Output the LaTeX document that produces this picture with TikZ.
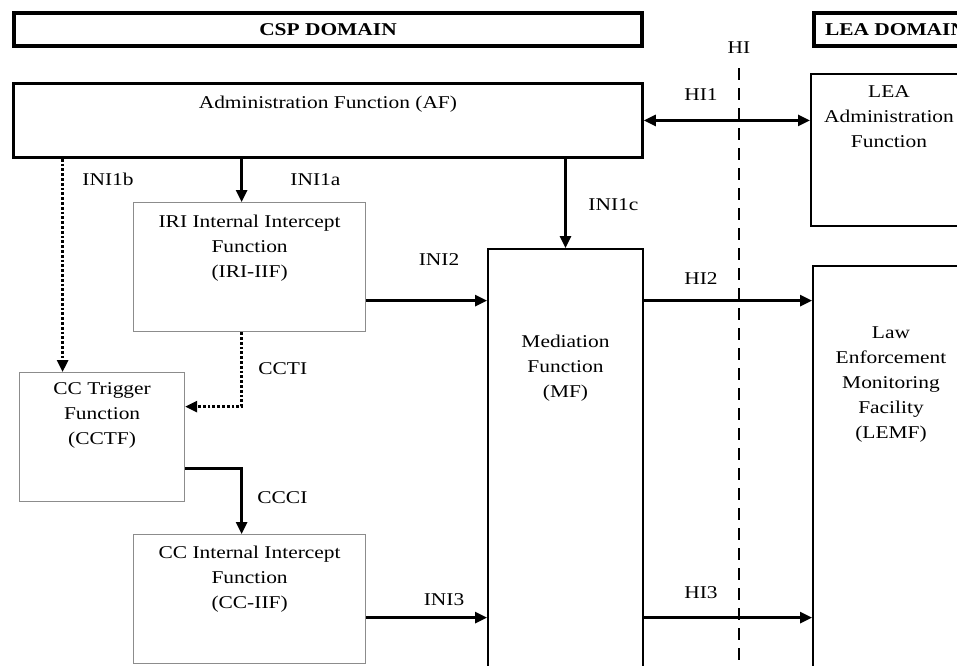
\documentclass[tikz,border=0pt]{standalone}
\usepackage{fontspec}
\setmainfont{Liberation Serif}[FakeStretch=1.19]
\usetikzlibrary{arrows.meta}

\begin{document}
\begin{tikzpicture}[x=0.5pt, y=-0.5pt,
    font=\fontsize{9}{12.5}\selectfont,
    >={Triangle[length=6pt,width=5.5pt]},
    dombox/.style={draw, line width=2pt, inner sep=0pt, anchor=north west, font=\fontsize{9}{12.5}\selectfont\bfseries},
    blkbox/.style={draw, line width=1pt, inner sep=0pt, anchor=north west},
    grybox/.style={draw=black!45, line width=0.6pt, inner sep=0pt, anchor=north west},
    txt/.style={inner sep=0pt, align=center, anchor=north},
    lbl/.style={inner sep=0pt, anchor=base},
    arr/.style={->, line width=1.3pt},
    dotarr/.style={->, line width=1.4pt, densely dotted},
    hiline/.style={line width=1.4pt, dash pattern=on 6pt off 4pt}]
    \useasboundingbox (0,0) rectangle (957,665);
    \clip (0,0) rectangle (957,665);

    % domains
    \node[dombox, minimum width=314pt, minimum height=16.5pt] (csp) at (12,11) {CSP DOMAIN};
    \node[dombox, minimum width=81.5pt, minimum height=16.5pt] (lea) at (812,11) {LEA DOMAIN};

    % boxes
    \node[blkbox, line width=1.4pt, minimum width=314.5pt, minimum height=37pt] (af) at (12,82) {};
    \node[lbl] (aftxt) at ([yshift=-13pt]af.north) {Administration Function (AF)};
    \node[blkbox, minimum width=78pt, minimum height=76pt] (leaaf) at (810,73) {};
    \node[txt] (leaaftxt) at ([yshift=-6.25pt]leaaf.north) {LEA\\Administration\\Function};
    \node[grybox, minimum width=116pt, minimum height=64.5pt] (iri) at (133,202) {};
    \node[txt] (iritxt) at ([yshift=-6.25pt]iri.north) {IRI Internal Intercept\\Function\\(IRI-IIF)};
    \node[grybox, minimum width=82.5pt, minimum height=64.5pt] (cctf) at (19,372) {};
    \node[txt] (cctftxt) at ([yshift=-5.25pt]cctf.north) {CC Trigger\\Function\\(CCTF)};
    \node[grybox, minimum width=116pt, minimum height=64.5pt] (cciif) at (133,534) {};
    \node[txt] (cciiftxt) at ([yshift=-5.75pt]cciif.north) {CC Internal Intercept\\Function\\(CC-IIF)};
    \node[blkbox, minimum width=77.5pt, minimum height=230pt] (mf) at (487,248) {};
    \node[txt] (mftxt) at ([yshift=-43.25pt]mf.north) {Mediation\\Function\\(MF)};
    \node[blkbox, minimum width=78pt, minimum height=220pt] (lemf) at (812,265) {};
    \node[txt] (lemftxt) at ([yshift=-30.75pt]lemf.north) {Law\\Enforcement\\Monitoring\\Facility\\(LEMF)};

    % handover line
    \node[lbl] (hi) at (739,53) {HI};
    \coordinate (hiend) at (739,670);
    \draw[hiline] ([yshift=-7.5pt]hi.base) -- (hiend);

    % connectors
    \coordinate (ini2) at ([yshift=-16.75pt]iri.east);
    \coordinate (ini3) at ([yshift=-9.25pt]cciif.east);
    \draw[<->, line width=1.3pt] (af.east) -- (af.east -| leaaf.west);
    \draw[arr] ([xshift=-4pt]af.south -| iri.north) -- ([xshift=-4pt]iri.north);
    \draw[arr] (af.south -| mf.north) -- (mf.north);
    \draw[dotarr] ([xshift=-19.75pt]cctf.north |- af.south) -- ([xshift=-19.75pt]cctf.north);
    \draw[dotarr] ([xshift=-4pt]iri.south) |- ([yshift=15.25pt]cctf.east);
    \draw[arr] ([yshift=-15.75pt]cctf.east) -| ([xshift=-4pt]cciif.north);
    \draw[arr] (ini2) -- (ini2 -| mf.west);
    \draw[arr] (ini2 -| mf.east) -- (ini2 -| lemf.west);
    \draw[arr] (ini3) -- (ini3 -| mf.west);
    \draw[arr] (ini3 -| mf.east) -- (ini3 -| lemf.west);

    % interface labels
    \node[lbl] (hione) at (701,100) {HI1};
    \node[lbl] (hitwo) at (701,284) {HI2};
    \node[lbl] (hithree) at (701,598) {HI3};
    \node[lbl, anchor=base west] (inib) at (82,185) {INI1b};
    \node[lbl, anchor=base west] (inia) at (290,185) {INI1a};
    \node[lbl, anchor=base west] (inic) at (588,210) {INI1c};
    \node[lbl] (initwo) at (439,265) {INI2};
    \node[lbl] (inithree) at (444,605) {INI3};
    \node[lbl, anchor=base west] (ccti) at (258,374) {CCTI};
    \node[lbl, anchor=base west] (ccci) at (257,503) {CCCI};
\end{tikzpicture}
\end{document}
